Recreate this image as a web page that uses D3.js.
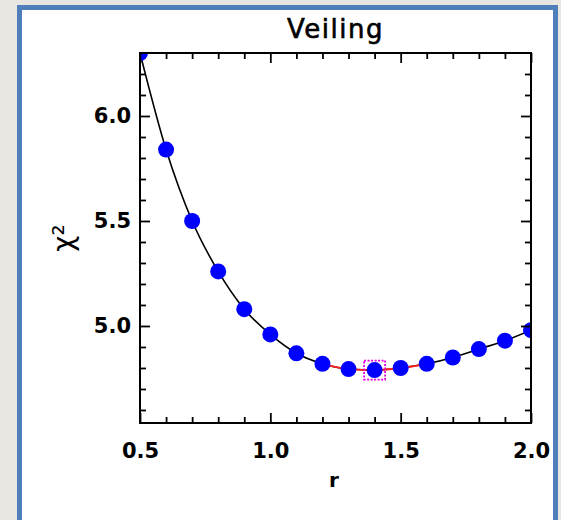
<!DOCTYPE html>
<html lang="en">
<head>
    <meta charset="UTF-8">
    <title>Veiling</title>
    <script src="https://cdn.jsdelivr.net/npm/d3@7"></script>
    <style>
      body { margin: 0; background: #e8e6e1; }
      svg { display: block; }
    </style>
</head>
<body>
<div id="chart"></div>
<script>
  // chi^2 vs veiling r
  const rValues = [0.5, 0.6, 0.7, 0.8, 0.9, 1.0, 1.1, 1.2, 1.3, 1.4, 1.5, 1.6, 1.7, 1.8, 1.9, 2.0];
  const chi2 = [6.30, 5.84, 5.50, 5.26, 5.08, 4.96, 4.87, 4.82, 4.795, 4.79, 4.80, 4.82, 4.85, 4.89, 4.93, 4.98];
  const bestR = 1.4;
  const bestChi2 = 4.79;
  const redRange = [1.2, 1.6];

  const xMajor = [0.5, 1.0, 1.5, 2.0];
  const xMinor = [0.6, 0.7, 0.8, 0.9, 1.1, 1.2, 1.3, 1.4, 1.6, 1.7, 1.8, 1.9];
  const yMajor = [5.0, 5.5, 6.0];
  const yMinor = [4.6, 4.7, 4.8, 4.9, 5.1, 5.2, 5.3, 5.4, 5.6, 5.7, 5.8, 5.9, 6.1, 6.2];

  const width = 561, height = 520;
  const pLeft = 140, pRight = 531, pTop = 53, pBottom = 423;

  const svg = d3.select("#chart").append("svg")
      .attr("width", width)
      .attr("height", height);

  // panel with blue frame
  svg.append("rect")
      .attr("x", 19.5).attr("y", 7.5)
      .attr("width", 536).attr("height", 530)
      .attr("fill", "white")
      .attr("stroke", "#4f7fbb")
      .attr("stroke-width", 5);

  const x = d3.scaleLinear().domain([0.5, 2.0]).range([pLeft, pRight]);
  const y = d3.scaleLinear().domain([4.538, 6.3]).range([pBottom, pTop]);

  const data = rValues.map((r, i) => ({r, v: chi2[i]}));

  svg.append("clipPath").attr("id", "plotClip")
    .append("rect")
      .attr("x", pLeft).attr("y", pTop)
      .attr("width", pRight - pLeft).attr("height", pBottom - pTop);

  const plot = svg.append("g").attr("clip-path", "url(#plotClip)");

  const line = d3.line()
      .x(d => x(d.r))
      .y(d => y(d.v))
      .curve(d3.curveMonotoneX);

  plot.append("path")
      .datum(data)
      .attr("fill", "none")
      .attr("stroke", "black")
      .attr("stroke-width", 1.6)
      .attr("d", line);

  plot.append("path")
      .datum(data.filter(d => d.r >= redRange[0] - 1e-9 && d.r <= redRange[1] + 1e-9))
      .attr("fill", "none")
      .attr("stroke", "#ff2020")
      .attr("stroke-width", 1.8)
      .attr("d", line);

  plot.append("g")
      .selectAll("circle")
      .data(data)
      .join("circle")
      .attr("cx", d => x(d.r))
      .attr("cy", d => y(d.v))
      .attr("r", 8)
      .attr("fill", "#0000ff");

  // best fit box
  plot.append("rect")
      .attr("x", x(bestR) - 10.5).attr("y", y(bestChi2) - 9.5)
      .attr("width", 21).attr("height", 19)
      .attr("fill", "none")
      .attr("stroke", "#e000e0")
      .attr("stroke-width", 1.8)
      .attr("stroke-dasharray", "2,1.5");

  // axes: ticks inward on all four sides
  function drawAxis(axis, transform) {
    const g = svg.append("g").attr("transform", transform).call(axis);
    g.select(".domain").remove();
    g.selectAll(".tick line").attr("stroke", "black").attr("stroke-width", 1.8);
    return g;
  }

  const fmt = d3.format(".1f");
  const labelFont = "DejaVu Sans, sans-serif";

  const xb = drawAxis(d3.axisBottom(x).tickValues(xMajor).tickSize(-10).tickFormat(fmt), `translate(0,${pBottom})`);
  xb.selectAll(".tick text")
      .attr("y", 20).attr("dy", "0.71em")
      .attr("font-family", labelFont).attr("font-size", 21).attr("font-weight", "bold")
      .attr("fill", "black");
  drawAxis(d3.axisBottom(x).tickValues(xMinor).tickSize(-6).tickFormat(""), `translate(0,${pBottom})`);
  drawAxis(d3.axisTop(x).tickValues(xMajor).tickSize(-10).tickFormat(""), `translate(0,${pTop})`);
  drawAxis(d3.axisTop(x).tickValues(xMinor).tickSize(-6).tickFormat(""), `translate(0,${pTop})`);

  const yl = drawAxis(d3.axisLeft(y).tickValues(yMajor).tickSize(-10).tickFormat(fmt), `translate(${pLeft},0)`);
  yl.selectAll(".tick text")
      .attr("x", -9)
      .attr("font-family", labelFont).attr("font-size", 21).attr("font-weight", "bold")
      .attr("fill", "black");
  drawAxis(d3.axisLeft(y).tickValues(yMinor).tickSize(-6).tickFormat(""), `translate(${pLeft},0)`);
  drawAxis(d3.axisRight(y).tickValues(yMajor).tickSize(-10).tickFormat(""), `translate(${pRight},0)`);
  drawAxis(d3.axisRight(y).tickValues(yMinor).tickSize(-6).tickFormat(""), `translate(${pRight},0)`);

  // frame
  svg.append("rect")
      .attr("x", pLeft).attr("y", pTop)
      .attr("width", pRight - pLeft).attr("height", pBottom - pTop)
      .attr("fill", "none")
      .attr("stroke", "black")
      .attr("stroke-width", 2);

  // title and axis labels
  svg.append("text")
      .attr("x", (pLeft + pRight) / 2).attr("y", 38)
      .attr("text-anchor", "middle")
      .attr("font-family", labelFont).attr("font-size", 26)
      .attr("letter-spacing", 1.5)
      .attr("stroke", "black").attr("stroke-width", 0.6)
      .text("Veiling");

  svg.append("text")
      .attr("x", 334).attr("y", 487)
      .attr("text-anchor", "middle")
      .attr("font-family", labelFont).attr("font-size", 20).attr("font-weight", "bold")
      .text("r");

  svg.append("text")
      .attr("transform", "translate(73,238) rotate(-90)")
      .attr("text-anchor", "middle")
      .attr("font-family", labelFont).attr("font-size", 28)
      .text("χ²");
</script>
</body>
</html>
